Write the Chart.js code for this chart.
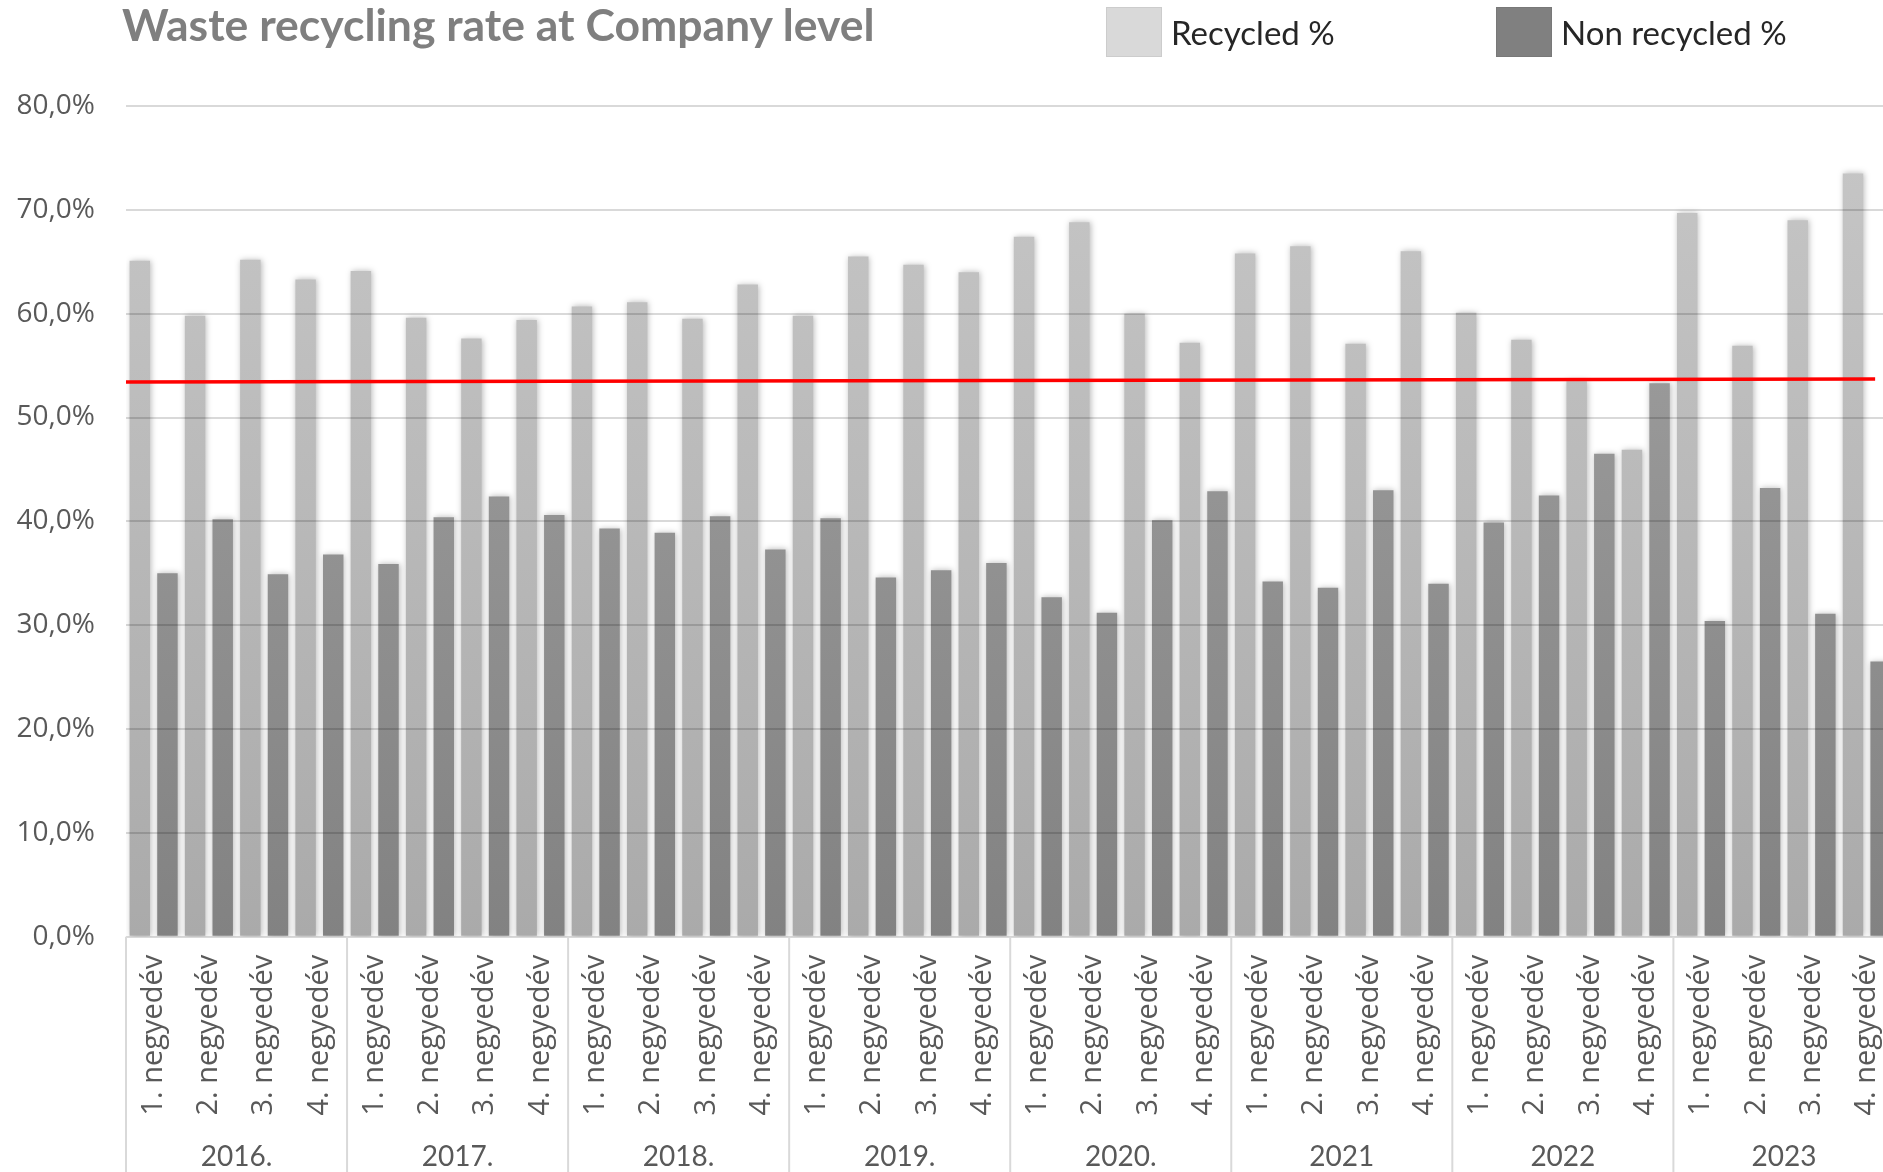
<!DOCTYPE html>
<html>
<head>
<meta charset="utf-8">
<script src="https://cdn.jsdelivr.net/npm/chart.js@4.4.1/dist/chart.umd.min.js"></script>
<style>
  html, body { margin: 0; padding: 0; background: #fff; overflow: hidden; }
  #wrap { position: relative; width: 1883px; height: 1172px; overflow: hidden; }
  #chart { position: absolute; left: 0; top: 0; }
  .title { position: absolute; left: 122px; top: -3px; line-height: 44px; font: bold 44.5px Lato, sans-serif; color: #7f7f7f; white-space: nowrap; }
  .legend-item { position: absolute; top: 7px; height: 50px; display: flex; align-items: center; font: 33px Lato, sans-serif; color: #262626; white-space: nowrap; }
  .swatch { width: 56px; height: 50px; margin-right: 9px; box-sizing: border-box; border: 1px solid rgba(0,0,0,0.06); }
</style>
</head>
<body>
<div id="wrap">
  <canvas id="chart" width="1920" height="1172"></canvas>
  <div class="title">Waste recycling rate at Company level</div>
  <div class="legend-item" style="left:1106px"><span class="swatch" style="background:#d9d9d9"></span>Recycled %</div>
  <div class="legend-item" style="left:1496px"><span class="swatch" style="background:#808080"></span>Non recycled %</div>
</div>
<script>
// quarters x years
const quarters = ['1. negyedév', '2. negyedév', '3. negyedév', '4. negyedév'];
const years = ['2016.', '2017.', '2018.', '2019.', '2020.', '2021', '2022', '2023'];
const categories = years.flatMap(() => quarters);

const recycled = [
  65.1, 59.8, 65.2, 63.3,
  64.1, 59.6, 57.6, 59.4,
  60.7, 61.1, 59.5, 62.8,
  59.8, 65.5, 64.7, 64.0,
  67.4, 68.8, 60.0, 57.2,
  65.8, 66.5, 57.1, 66.0,
  60.1, 57.5, 53.5, 46.9,
  69.7, 56.9, 69.0, 73.5
];
const nonRecycled = [
  35.0, 40.2, 34.9, 36.8,
  35.9, 40.4, 42.4, 40.6,
  39.3, 38.9, 40.5, 37.3,
  40.3, 34.6, 35.3, 36.0,
  32.7, 31.2, 40.1, 42.9,
  34.2, 33.6, 43.0, 34.0,
  39.9, 42.5, 46.5, 53.3,
  30.4, 43.2, 31.1, 26.5
];
// trend line end points (category index, %)
const trendX = [-0.5, 31.15];
const trendY = [53.43, 53.72];

const yMin = 0, yMax = 80, yStep = 10;

const TICK_COLOR = '#595959';
const GRID = 'rgba(0,0,0,0.15)';

function barGradient(top, bottom) {
  return (c) => {
    const { ctx, chartArea } = c.chart;
    if (!chartArea) return bottom;
    const g = ctx.createLinearGradient(0, chartArea.top, 0, chartArea.bottom);
    g.addColorStop(0, top);
    g.addColorStop(1, bottom);
    return g;
  };
}

// soft shadow round the bars
const barShadow = {
  id: 'barShadow',
  beforeDatasetDraw(chart) {
    const ctx = chart.ctx;
    ctx.save();
    ctx.shadowColor = 'rgba(0,0,0,0.28)';
    ctx.shadowBlur = 6;
    ctx.shadowOffsetX = 1;
  },
  afterDatasetDraw(chart) {
    chart.ctx.restore();
  }
};

// red trend line, placed with the x and y scales
const trendLine = {
  id: 'trendLine',
  afterDatasetsDraw(chart) {
    const x = chart.scales.x, y = chart.scales.y, ctx = chart.ctx;
    const step = x.getPixelForValue(1) - x.getPixelForValue(0);
    const px = (v) => x.getPixelForValue(0) + v * step;
    ctx.save();
    ctx.strokeStyle = '#ff0000';
    ctx.lineWidth = 3.5;
    ctx.beginPath();
    trendX.forEach((v, i) => {
      const fn = i ? 'lineTo' : 'moveTo';
      ctx[fn](px(v), y.getPixelForValue(trendY[i]));
    });
    ctx.stroke();
    ctx.restore();
  }
};

// vertical separators between years under the axis
const yearLines = {
  id: 'yearLines',
  afterDraw(chart) {
    const x = chart.scales.x, area = chart.chartArea, ctx = chart.ctx;
    ctx.save();
    ctx.strokeStyle = '#d9d9d9';
    ctx.lineWidth = 2;
    for (let k = 0; k <= years.length; k++) {
      const i = k * quarters.length;
      let px;
      if (i === 0) px = area.left;
      else if (i >= categories.length) px = area.right;
      else px = (x.getPixelForValue(i - 1) + x.getPixelForValue(i)) / 2;
      ctx.beginPath();
      ctx.moveTo(px, area.bottom);
      ctx.lineTo(px, chart.height);
      ctx.stroke();
    }
    ctx.restore();
  }
};

new Chart(document.getElementById('chart'), {
  type: 'bar',
  data: {
    labels: categories,
    datasets: [
      {
        label: 'Recycled %', data: recycled,
        backgroundColor: barGradient('#c7c7c7', '#aaaaaa'),
        barPercentage: 0.74, categoryPercentage: 1
      },
      {
        label: 'Non recycled %', data: nonRecycled,
        backgroundColor: barGradient('#a4a4a4', '#828282'),
        barPercentage: 0.74, categoryPercentage: 1
      }
    ]
  },
  options: {
    responsive: false,
    animation: false,
    layout: { padding: { top: 106, right: 25, left: 0, bottom: 0 } },
    plugins: { legend: { display: false }, tooltip: { enabled: false }, title: { display: false } },
    scales: {
      y: {
        min: yMin, max: yMax,
        border: { display: false },
        grid: { color: GRID, lineWidth: 2, drawTicks: false, z: 1 },
        ticks: {
          stepSize: yStep, padding: 31, color: TICK_COLOR,
          font: { family: 'Open Sans', size: 28 },
          callback: (v) => v.toFixed(1).replace('.', ',') + '%'
        },
        afterFit: (s) => { s.width = 126; }
      },
      x: {
        weight: 0,
        border: { display: false },
        grid: { display: false, drawTicks: false },
        ticks: {
          minRotation: 90, maxRotation: 90, autoSkip: false, padding: 18,
          color: TICK_COLOR, font: { family: 'Open Sans', size: 29 }
        },
        afterFit: (s) => { s.height = 190; }
      },
      yr: {
        type: 'category', axis: 'x', position: 'bottom', weight: 1,
        labels: years, offset: true,
        border: { display: false },
        grid: { display: false, drawTicks: false },
        ticks: { padding: 13, color: TICK_COLOR, font: { family: 'Lato', size: 28 } },
        afterFit: (s) => { s.height = 45.3; }
      }
    }
  },
  plugins: [barShadow, trendLine, yearLines]
});
</script>
</body>
</html>
